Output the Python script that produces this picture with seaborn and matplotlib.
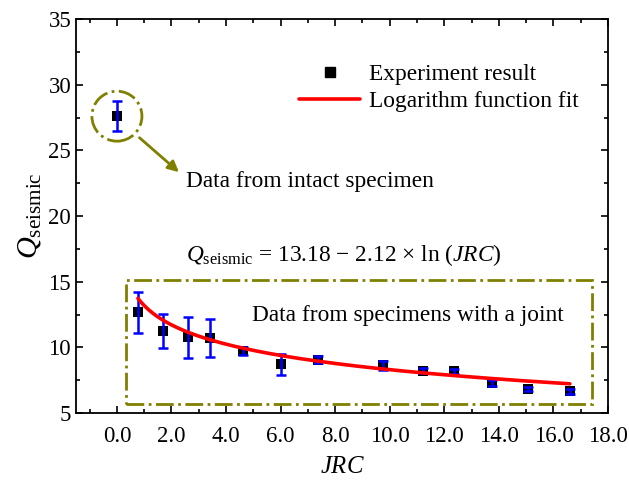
import numpy as np
import pandas as pd
import matplotlib
matplotlib.use("Agg")
import matplotlib.pyplot as plt
from matplotlib.patches import Ellipse, Rectangle
from matplotlib.lines import Line2D
import seaborn as sns

# ---- data ----
intact_jrc = [0.0]
intact_q = [27.63]
intact_err = [1.15]

jrc = [0.77, 1.69, 2.60, 3.40, 4.62, 6.00, 7.37, 9.75, 11.22, 12.36, 13.73, 15.07, 16.60]
q = [12.66, 11.26, 10.75, 10.71, 9.69, 8.73, 9.06, 8.62, 8.22, 8.17, 7.28, 6.85, 6.64]
q_err = [1.55, 1.30, 1.58, 1.45, 0.30, 0.80, 0.25, 0.35, 0.20, 0.20, 0.25, 0.15, 0.20]

fit_a = 13.18
fit_b = 2.12
fit_range = [0.77, 16.6]

x_ticks = [0, 2, 4, 6, 8, 10, 12, 14, 16, 18]
x_ticklabels = ["0.0", "2.0", "4.0", "6.0", "8.0", "10.0", "12.0", "14.0", "16.0", "18.0"]
y_ticks = [5, 10, 15, 20, 25, 30, 35]

sns.set_theme(style="ticks")
plt.rcParams["font.family"] = ["Liberation Serif", "DejaVu Serif"]
plt.rcParams["mathtext.fontset"] = "custom"
plt.rcParams["mathtext.rm"] = "Liberation Serif"
plt.rcParams["mathtext.it"] = "Liberation Serif:italic"
plt.rcParams["mathtext.bf"] = "Liberation Serif:bold"
plt.rcParams["text.color"] = "black"
plt.rcParams["axes.labelcolor"] = "black"
plt.rcParams["xtick.color"] = "black"
plt.rcParams["ytick.color"] = "black"

FS = 16.8
OLIVE = "#808000"

fig = plt.figure(figsize=(6.29, 4.83), dpi=100)
ax = fig.add_axes([76 / 629, 1 - 413 / 483, (608 - 76) / 629, (413 - 19) / 483])

df = pd.DataFrame({"JRC": intact_jrc + jrc, "Q": intact_q + q, "err": intact_err + q_err})

sns.scatterplot(data=df, x="JRC", y="Q", marker="s", color="black", s=48,
                edgecolor="black", linewidth=0, ax=ax, zorder=3, legend=False)
ax.errorbar(df["JRC"], df["Q"], yerr=df["err"], fmt="none", ecolor="#0000ff",
            elinewidth=1.8, capsize=3.4, capthick=1.8, zorder=4)

xf = np.linspace(fit_range[0], fit_range[1], 200)
fit_df = pd.DataFrame({"JRC": xf, "Q": fit_a - fit_b * np.log(xf)})
sns.lineplot(data=fit_df, x="JRC", y="Q", color="red", linewidth=2.6, ax=ax, zorder=5)

ax.set_xlim(-1.5, 18)
ax.set_ylim(5, 35)
ax.set_xticks(x_ticks)
ax.set_xticklabels(x_ticklabels)
ax.set_yticks(y_ticks)
ax.set_xticks(np.arange(-1, 18, 1), minor=True)
ax.set_yticks(np.arange(5, 35.1, 2.5), minor=True)
ax.tick_params(which="both", direction="in", top=True, right=True, labelsize=16.5,
               width=1.2, colors="black")
ax.tick_params(which="major", length=5)
ax.tick_params(which="minor", length=3)
ax.tick_params(axis="x", pad=9)
for s in ax.spines.values():
    s.set_linewidth(1.3)
    s.set_color("black")

ax.set_xlabel("$JRC$", fontsize=FS + 1, labelpad=7)
ax.set_ylabel(r"$Q_{\mathrm{seismic}}$", fontsize=FS + 5, labelpad=4)

# annotations
ell = Ellipse((0.0, 27.6), width=50 / 27.27, height=50 / 13.14, fill=False,
              edgecolor=OLIVE, linestyle="-.", linewidth=2, zorder=2)
ax.add_patch(ell)
ax.annotate("", xy=(2.35, 23.2), xytext=(0.75, 26.1),
            arrowprops=dict(arrowstyle="-|>", color=OLIVE, lw=2, mutation_scale=16))
ax.text(2.55, 22.6, "Data from intact specimen", fontsize=FS, va="center", ha="left")

rect = Rectangle((0.32, 5.68), 17.4 - 0.32, 15.09 - 5.68, fill=False, edgecolor=OLIVE,
                 linestyle="-.", linewidth=2, zorder=2)
ax.add_patch(rect)
ax.text(10.66, 12.45, "Data from specimens with a joint", fontsize=FS, va="center", ha="center")

ax.text(2.55, 17.0, r"$Q_{\mathrm{seismic}}$ = 13.18 $-$ 2.12 × ln ($JRC$)",
        fontsize=FS, va="center", ha="left")

handles = [Line2D([], [], marker="s", color="black", linestyle="none", markersize=7.5),
           Line2D([], [], color="red", linewidth=2.6)]
ax.legend(handles, ["Experiment result", "Logarithm function fit"], loc="upper right",
          bbox_to_anchor=(0.985, 0.94), frameon=False, fontsize=FS, handlelength=2.6,
          handletextpad=0.4, labelspacing=0.25)

fig.savefig("out.png", dpi=100)
